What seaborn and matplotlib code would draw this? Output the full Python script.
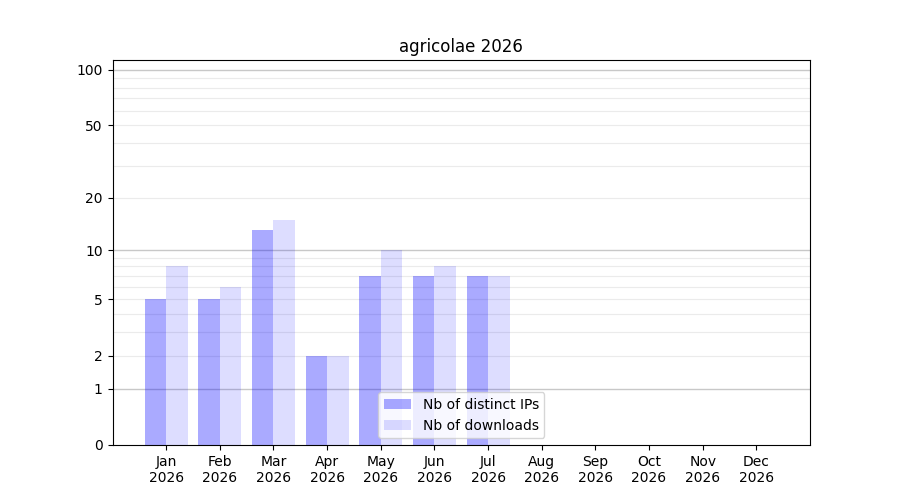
import numpy as np
import pandas as pd
import matplotlib
matplotlib.use("Agg")
import matplotlib.pyplot as plt
import seaborn as sns

months = ["Jan\n2026", "Feb\n2026", "Mar\n2026", "Apr\n2026", "May\n2026", "Jun\n2026",
          "Jul\n2026", "Aug\n2026", "Sep\n2026", "Oct\n2026", "Nov\n2026", "Dec\n2026"]
distinct_ips = [5, 5, 13, 2, 7, 7, 7, 0, 0, 0, 0, 0]
downloads = [8, 6, 15, 2, 10, 8, 7, 0, 0, 0, 0, 0]
series_names = ["Nb of distinct IPs", "Nb of downloads"]
ytick_vals = [0, 1, 2, 5, 10, 20, 50, 100]
major_grid = [1, 10, 100]
minor_grid = [2, 3, 4, 5, 6, 7, 8, 9, 20, 30, 40, 50, 60, 70, 80, 90]

df = pd.DataFrame({
    "month": months * 2,
    "value": distinct_ips + downloads,
    "series": [series_names[0]] * len(months) + [series_names[1]] * len(months),
})

fig, ax = plt.subplots(figsize=(9, 5), dpi=100)

ax.set_yscale("function", functions=(lambda v: np.log10(1 + np.clip(v, 0, None)),
                                      lambda v: 10 ** v - 1))

for g in minor_grid:
    ax.axhline(g, color="#ebebeb", lw=0.8, zorder=0)
for g in major_grid:
    ax.axhline(g, color="#c8c8c8", lw=1.0, zorder=0)

sns.barplot(data=df, x="month", y="value", hue="series", order=months,
            hue_order=series_names, palette=["blue", "blue"], width=0.8,
            ax=ax, legend=False, saturation=1, zorder=2)

alphas = [0.333, 0.133]
for cont, a in zip(ax.containers, alphas):
    for p in cont:
        p.set_facecolor((0, 0, 1, a))
        p.set_edgecolor("none")

from matplotlib.patches import Patch
handles = [Patch(facecolor=(0, 0, 1, a), edgecolor="none") for a in alphas]
ax.legend(handles, series_names, loc="lower center")

ax.set_xlim(-1, 12)
ax.set_ylim(0, 113)
ax.set_yticks(ytick_vals)
ax.set_yticklabels([str(v) for v in ytick_vals])
ax.yaxis.set_minor_locator(matplotlib.ticker.NullLocator())
ax.set_xlabel("")
ax.set_ylabel("")
ax.set_title("agricolae 2026")

fig.savefig("out.png", dpi=100)
